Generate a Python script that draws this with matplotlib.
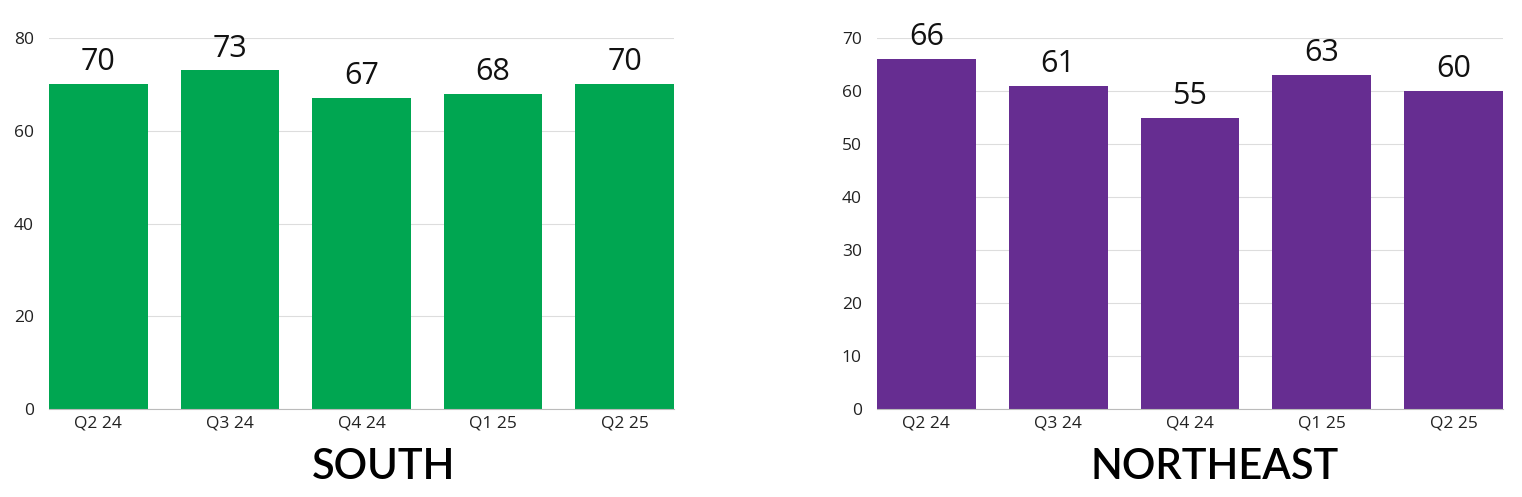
import matplotlib
matplotlib.use("Agg")
import matplotlib.pyplot as plt

categories = ["Q2 24", "Q3 24", "Q4 24", "Q1 25", "Q2 25"]
south_values = [70, 73, 67, 68, 70]
northeast_values = [66, 61, 55, 63, 60]
south_ticks = [0, 20, 40, 60, 80]
northeast_ticks = [0, 10, 20, 30, 40, 50, 60, 70]

plt.rcParams['font.family'] = ['Open Sans', 'DejaVu Sans']

W, H = 1522, 497
fig = plt.figure(figsize=(W / 100, H / 100), dpi=100)

def make_ax(left_px, right_px, values, ticks, color, title, title_x_px):
    ax = fig.add_axes([left_px / W, 1 - 409 / H, (right_px - left_px) / W, (409 - 38) / H])
    x = range(len(categories))
    bars = ax.bar(x, values, width=0.75, color=color, zorder=3)
    ax.set_xlim(-0.375, len(categories) - 1 + 0.375)
    ax.set_ylim(0, ticks[-1])
    ax.set_yticks(ticks)
    ax.set_xticks(list(x))
    ax.set_xticklabels(categories)
    ax.tick_params(axis='both', length=0, labelsize=12.5, colors='#222222')
    ax.tick_params(axis='y', pad=11)
    ax.tick_params(axis='x', pad=5)
    ax.grid(axis='y', color='#dddddd', linewidth=0.8, zorder=0)
    for s in ['top', 'right', 'left']:
        ax.spines[s].set_visible(False)
    ax.spines['bottom'].set_color('#bbbbbb')
    ax.spines['bottom'].set_zorder(4)
    for b, v in zip(bars, values):
        ax.annotate(str(v), (b.get_x() + b.get_width() / 2, v), xytext=(0, 5),
                    textcoords='offset points', ha='center', va='bottom',
                    fontsize=22, color='#111111')
    fig.text(title_x_px / W, 1 - 467 / H, title, ha='center', va='center',
             fontsize=30, fontweight='semibold', family=['Lato', 'DejaVu Sans'], color='black')
    return ax

make_ax(49, 674, south_values, south_ticks, '#00A651', 'SOUTH', 384)
make_ax(877, 1503, northeast_values, northeast_ticks, '#662D91', 'NORTHEAST', 1215)

fig.savefig('out.png', dpi=100)
